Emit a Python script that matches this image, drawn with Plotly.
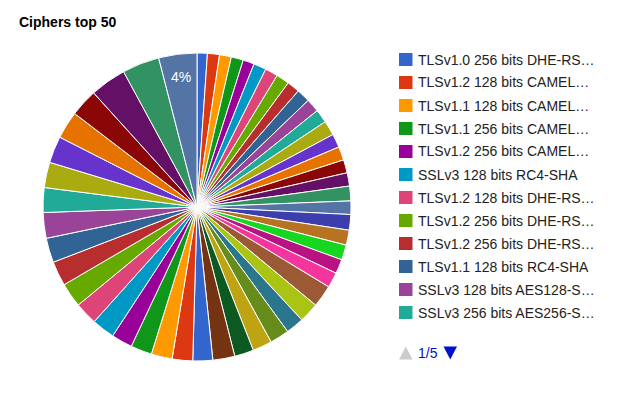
import math
import plotly.graph_objects as go

W, H = 628, 393

title_text = "Ciphers top 50"

# slice values (percent of total), clockwise from 12 o'clock
values = [1.08, 1.26, 1.24, 1.27, 1.18, 1.33, 1.34, 1.38, 1.33, 1.41,
          1.41, 1.41, 1.55, 1.42, 1.42, 1.38, 1.39, 1.54, 1.41, 1.63,
          1.57, 1.58, 1.50, 1.61, 2.32, 2.09, 1.89, 2.02, 2.03, 2.01,
          2.30, 2.08, 2.15, 2.19, 2.23, 2.20, 2.41, 2.38, 2.56, 2.58,
          2.57, 2.69, 2.59, 2.66, 2.80, 2.89, 2.90, 3.80, 3.90, 4.00]

# legend entries visible on page 1 of 5 (as displayed, truncated)
legend_labels = ["TLSv1.0 256 bits DHE-RS…", "TLSv1.2 128 bits CAMEL…",
                 "TLSv1.1 128 bits CAMEL…", "TLSv1.1 256 bits CAMEL…",
                 "TLSv1.2 256 bits CAMEL…", "SSLv3 128 bits RC4-SHA",
                 "TLSv1.2 128 bits DHE-RS…", "TLSv1.2 256 bits DHE-RS…",
                 "TLSv1.2 256 bits DHE-RS…", "TLSv1.1 128 bits RC4-SHA",
                 "SSLv3 128 bits AES128-S…", "SSLv3 256 bits AES256-S…"]

# slice names: first 12 from legend, rest not visible in the picture
labels = [f"{i + 1}. {t}" for i, t in enumerate(legend_labels)] + \
         [f"Cipher {i + 1}" for i in range(len(legend_labels), len(values))]

page_text = "1/5"

palette = ["#3366cc", "#dc3912", "#ff9900", "#109618", "#990099", "#0099c6",
           "#dd4477", "#66aa00", "#b82e2e", "#316395", "#994499", "#22aa99",
           "#aaaa11", "#6633cc", "#e67300", "#8b0707", "#651067", "#329262",
           "#5574a6", "#3b3eac", "#b77322", "#16d620", "#b91383", "#f4359e",
           "#9c5935", "#a9c413", "#2a778d", "#668d1c", "#bea413", "#0c5922",
           "#743411"]
colors = [palette[i % len(palette)] for i in range(len(values))]

FONT = "Liberation Sans, Arial"


def px(x):
    return x / W


def py(y):
    return 1 - y / H


cx, cy, r = 197, 207, 154

fig = go.Figure(go.Pie(
    labels=labels, values=values, sort=False, direction="clockwise",
    rotation=0,
    marker=dict(colors=colors, line=dict(color="white", width=1)),
    textinfo="none",
    showlegend=False, hoverinfo="label+value+percent",
    domain=dict(x=[px(cx - r), px(cx + r)], y=[py(cy + r), py(cy - r)]),
))

shapes = []
annotations = [dict(text="<b>%s</b>" % title_text, x=px(17), y=py(22),
                    xref="paper", yref="paper", xanchor="left", yanchor="middle",
                    showarrow=False,
                    font=dict(size=14, color="#000000", family=FONT))]

# percentage labels for slices large enough to hold text
total = sum(values)
cum = 0.0
for v in values:
    frac = v / total
    if frac >= 0.0395:
        mid = 2 * math.pi * (cum + frac / 2)
        lx = cx + 0.85 * r * math.sin(mid)
        ly = cy - 0.85 * r * math.cos(mid)
        annotations.append(dict(text=f"{round(frac * 100)}%", x=px(lx), y=py(ly),
                                xref="paper", yref="paper", showarrow=False,
                                xanchor="center", yanchor="middle",
                                font=dict(size=14, color="#ffffff", family=FONT)))
    cum += frac

for i, lab in enumerate(legend_labels):
    yc = 59.5 + 23 * i
    shapes.append(dict(type="rect", xref="paper", yref="paper",
                       x0=px(399), x1=px(412.5), y0=py(yc - 6.5), y1=py(yc + 6.5),
                       fillcolor=colors[i], line=dict(width=0)))
    annotations.append(dict(text=lab, x=px(416), y=py(yc), xref="paper", yref="paper",
                            xanchor="left", yanchor="middle", showarrow=False,
                            font=dict(size=14, color="#222222", family=FONT)))

# pager
yb = 353
shapes.append(dict(type="path", xref="paper", yref="paper",
                   path=f"M {px(399)} {py(yb + 6.5)} L {px(412.5)} {py(yb + 6.5)} "
                        f"L {px(405.75)} {py(yb - 6.5)} Z",
                   fillcolor="#cccccc", line=dict(width=0)))
shapes.append(dict(type="path", xref="paper", yref="paper",
                   path=f"M {px(443.5)} {py(yb - 6.5)} L {px(457)} {py(yb - 6.5)} "
                        f"L {px(450.25)} {py(yb + 6.5)} Z",
                   fillcolor="#0011cc", line=dict(width=0)))
annotations.append(dict(text=page_text, x=px(416), y=py(yb), xref="paper", yref="paper",
                        xanchor="left", yanchor="middle", showarrow=False,
                        font=dict(size=14, color="#0011cc", family=FONT)))

fig.update_layout(
    width=W, height=H, margin=dict(l=0, r=0, t=0, b=0),
    paper_bgcolor="white", plot_bgcolor="white",
    shapes=shapes, annotations=annotations,
    font=dict(family=FONT),
)

fig.write_html("out.html", config={"displayModeBar": False},
               post_script="document.body.style.margin='0';"
                           "document.body.style.overflow='hidden';")
